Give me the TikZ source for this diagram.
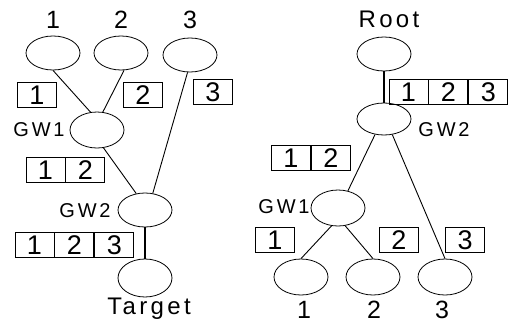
\documentclass[tikz,border=0pt]{standalone}
\usepackage{fontspec}
\setmainfont{Liberation Sans}
\newfontfamily\spacedfont[LetterSpace=14]{Liberation Sans}
\usetikzlibrary{shapes.geometric}
\begin{document}
\begin{tikzpicture}[x=1pt,y=-1pt,
  nd/.style={draw,ellipse,line width=0.8pt,minimum width=54pt,minimum height=34pt,inner sep=0pt},
  cell/.style={draw,line width=0.9pt,minimum width=39pt,minimum height=25pt,inner sep=0pt,font=\fontsize{27}{27}\selectfont},
  lbl/.style={font=\fontsize{25}{25}\selectfont,inner sep=0pt},
  wlbl/.style={font=\spacedfont\fontsize{24}{24}\selectfont,inner sep=0pt},
  gwl/.style={font=\spacedfont\fontsize{20}{20}\selectfont,inner sep=0pt},
  ln/.style={line width=0.9pt},
  thk/.style={line width=1.8pt}]
\useasboundingbox (0,0) rectangle (508,324);
% ---------- left tree ----------
\node[lbl] (la1) at (53,20) {1};
\node[lbl] (la2) at (121,20) {2};
\node[lbl] (la3) at (190,20) {3};
\node[nd] (l1) at (53,53) {};
\node[nd] (l2) at (121,53) {};
\node[nd] (l3) at (190,55) {};
\node[nd,minimum height=36pt] (lg1) at (97,130) {};
\node[gwl] (lg1t) at (39,130) {GW1};
\node[nd] (lg2) at (145,210) {};
\node[gwl] (lg2t) at (85,211) {GW2};
\node[nd,minimum height=38pt] (lt) at (145,278) {};
\node[wlbl] (ltt) at (149,309) {Target};
\node[cell] (lb1) at (37,95) {1};
\node[cell] (lb2) at (143,95) {2};
\node[cell] (lb3) at (213,92) {3};
\node[cell] (lc1) at (45.5,170) {1};
\node[cell,anchor=west] (lc2) at (lc1.east) {2};
\node[cell] (ld1) at (34.5,245) {1};
\node[cell,anchor=west] (ld2) at (ld1.east) {2};
\node[cell,anchor=west] (ld3) at (ld2.east) {3};
\draw[ln] (l1.south) -- (lg1.110);
\draw[ln] (l2.280) -- (lg1.72);
\draw[ln] (l3.262) -- (lg2.65);
\draw[ln] (lg1.290) -- (lg2.118);
\draw[thk] (lg2.south) -- (lt.north);
% ---------- right tree ----------
\node[wlbl] (rroot) at (389,19) {Root};
\node[nd] (rr) at (384,54) {};
\node[nd,minimum height=32pt] (rg2) at (384,119) {};
\node[gwl] (rg2t) at (444,130) {GW2};
\node[nd,minimum height=36pt] (rg1) at (338,208) {};
\node[gwl] (rg1t) at (284,207) {GW1};
\node[nd,minimum height=36pt] (r1) at (301,277) {};
\node[nd,minimum height=36pt] (r2) at (373,277) {};
\node[nd,minimum height=36pt] (r3) at (445,277) {};
\node[lbl] (ra1) at (304,310) {1};
\node[lbl] (ra2) at (374,310) {2};
\node[lbl] (ra3) at (442,310) {3};
\node[cell] (rd1) at (408.5,92) {1};
\node[cell,anchor=west] (rd2) at (rd1.east) {2};
\node[cell,anchor=west] (rd3) at (rd2.east) {3};
\node[cell] (rc1) at (291,158) {1};
\node[cell,anchor=west] (rc2) at (rc1.east) {2};
\node[cell] (rb1) at (275,240) {1};
\node[cell] (rb2) at (399,240) {2};
\node[cell] (rb3) at (465,240) {3};
\draw[thk] (rr.south) -- (rg2.north);
\draw[ln] (rg2.240) -- (rg1.60);
\draw[ln] (rg2.298) -- (r3.north);
\draw[ln] (rg1.250) -- (r1.north);
\draw[ln] (rg1.292) -- (r2.north);
\end{tikzpicture}
\end{document}
